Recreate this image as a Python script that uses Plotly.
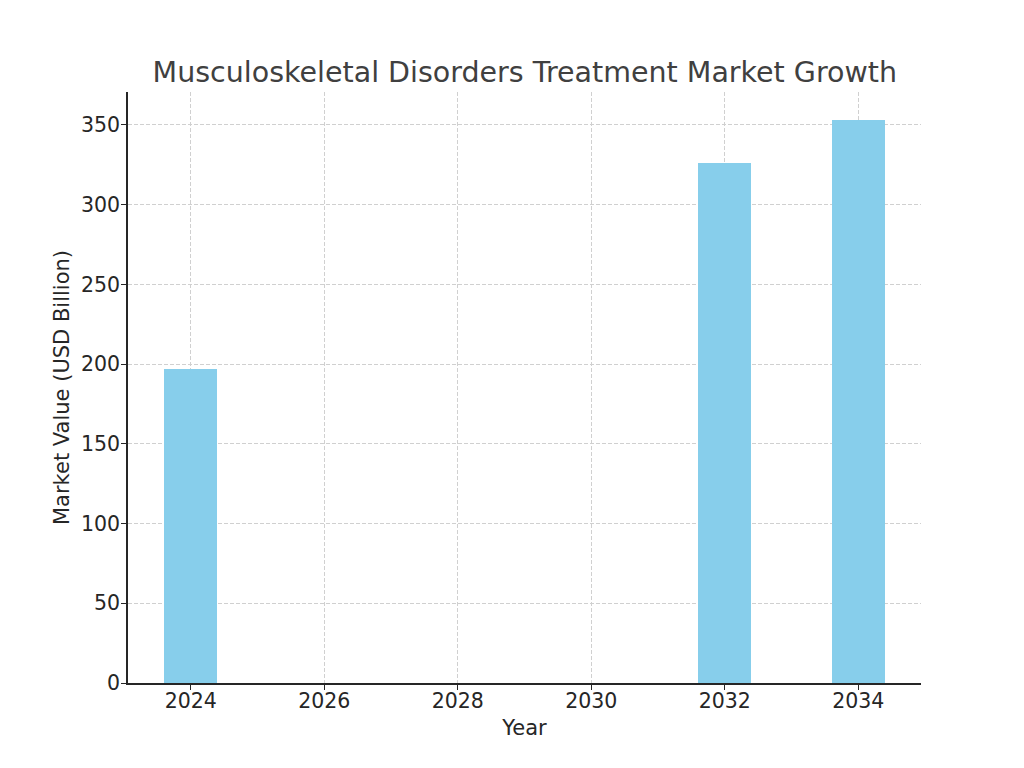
import plotly.graph_objects as go

years = [2024, 2032, 2034]
values = [197, 326, 353]
x_ticks = [2024, 2026, 2028, 2030, 2032, 2034]
y_ticks = [0, 50, 100, 150, 200, 250, 300, 350]

fig = go.Figure()
fig.add_trace(go.Bar(x=years, y=values, width=0.8, marker=dict(color="#87CEEB", line=dict(width=0))))

font = "DejaVu Sans, sans-serif"
fig.update_layout(
    width=1024, height=768,
    margin=dict(l=128, r=103, t=92, b=85),
    paper_bgcolor="white", plot_bgcolor="white",
    font=dict(family=font, color="#262626", size=20.5),
    title=dict(text="Musculoskeletal Disorders Treatment Market Growth",
               x=0.5125, xanchor="center", y=0.906, yanchor="middle",
               font=dict(size=28.5, color="#404040", family=font)),
    showlegend=False,
    bargap=0,
)
fig.update_xaxes(
    range=[2023.06, 2034.94], tickvals=x_ticks, ticktext=[str(t) for t in x_ticks],
    showline=True, linecolor="#262626", linewidth=1.5, mirror=False,
    ticks="outside", ticklen=5, tickwidth=1.2, tickcolor="#262626",
    ticklabelstandoff=-6,
    showgrid=True, gridcolor="#d0d0d0", griddash="4px,2px", gridwidth=1,
    zeroline=False,
    title=dict(text="Year", font=dict(size=21, family=font, color="#262626"), standoff=8),
)
fig.update_yaxes(
    range=[0, 370.65], tickvals=y_ticks,
    showline=True, linecolor="#262626", linewidth=1.5, mirror=False,
    ticks="outside", ticklen=5, tickwidth=1.2, tickcolor="#262626",
    ticklabelstandoff=-3,
    showgrid=True, gridcolor="#d0d0d0", griddash="4px,2px", gridwidth=1,
    zeroline=False,
    title=dict(text="Market Value (USD Billion)", font=dict(size=21, family=font, color="#262626"), standoff=6),
)
fig.write_html("out.html")
